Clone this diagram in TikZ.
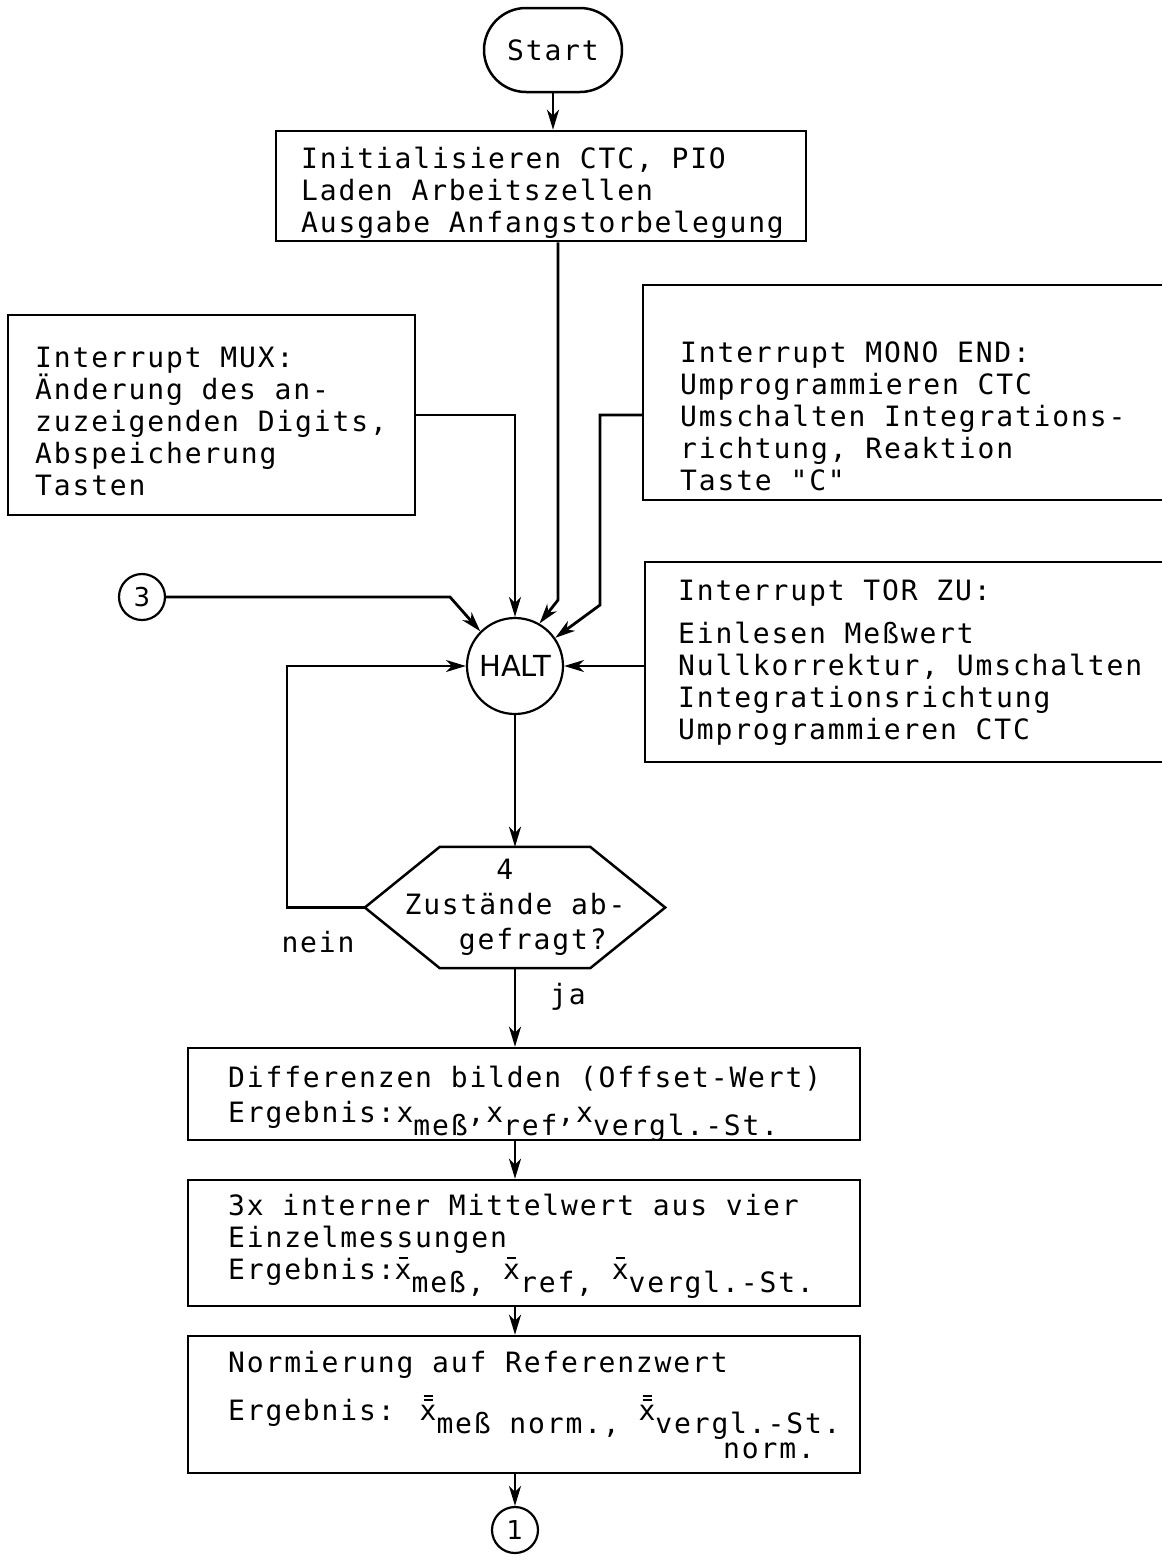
\documentclass[tikz,border=0pt]{standalone}
\usepackage{fontspec}
\usetikzlibrary{arrows.meta,calc}
\newfontfamily\monof[LetterSpace=6.6]{DejaVu Sans Mono}
\newfontfamily\sansf{DejaVu Sans}
\newcommand\mtxt{\monof\fontsize{28}{32}\selectfont\lineskiplimit=-100pt\relax}
\newcommand\lo[1]{\raisebox{-13pt}{#1}}
\newcommand\xb{\rlap{\hspace{4pt}\raisebox{20pt}{\rule{9pt}{2pt}}}x}
\newcommand\xbb{\rlap{\hspace{4pt}\raisebox{19pt}{\rule{9pt}{2pt}}}\rlap{\hspace{4pt}\raisebox{23pt}{\rule{9pt}{2pt}}}x}
\tikzset{
  box/.style={draw, line width=2.5pt, inner sep=0pt},
  txt/.style={inner sep=0pt, align=left, font=\mtxt},
  conn/.style={line width=2.8pt},
  arr/.style={conn, -{Stealth[length=20pt,width=12pt,inset=6pt]}},
  ring/.style={draw, circle, line width=2.2pt, inner sep=0pt},
}
\begin{document}
\begin{tikzpicture}[x=1pt,y=-1pt]
\useasboundingbox (0,0) rectangle (1162,1564);
\fill[white] (0,0) rectangle (1162,1564);

% Start
\node[box, rounded corners=42pt, minimum width=138pt, minimum height=84pt, font=\mtxt] (start) at (553,50) {Start};

% Init box
\node[box, minimum width=530pt, minimum height=110pt] (init) at (541,186) {};
\node[txt, anchor=west] (initT) at (301,193) {Initialisieren CTC, PIO\\Laden Arbeitszellen\\Ausgabe Anfangstorbelegung};

% MUX box
\node[box, minimum width=407pt, minimum height=200pt] (mux) at (211.5,415) {};
\node[txt, anchor=west] (muxT) at (35,421) {Interrupt MUX:\\Änderung des an-\\zuzeigenden Digits,\\Abspeicherung\\Tasten};

% MONO END box
\node[box, minimum width=532pt, minimum height=215pt] (mono) at (909,392.5) {};
\node[txt, anchor=west] (monoT) at (680,416) {Interrupt MONO END:\\Umprogrammieren CTC\\Umschalten Integrations-\\richtung, Reaktion\\Taste "C"};

% TOR ZU box
\node[box, minimum width=530pt, minimum height=200pt] (tor) at (910,662) {};
\node[txt, anchor=west] (torT) at (678,663) {Interrupt TOR ZU:\\[11pt]Einlesen Meßwert\\Nullkorrektur, Umschalten\\Integrationsrichtung\\Umprogrammieren CTC};

% HALT
\node[ring, minimum size=96pt, font=\sansf\fontsize{29}{32}\selectfont] (halt) at (515,666) {HALT};

% connector circle 3
\node[ring, minimum size=46pt, font=\sansf\fontsize{26}{28}\selectfont] (c3) at (142,597) {3};

% decision
\node[inner sep=0pt, minimum width=300pt, minimum height=121pt, align=left, font=\mtxt] (dec) at (515,907.5)
  {\phantom{00000}4\\[3pt]Zustände ab-\\[3pt]\phantom{000}gefragt?};
\draw[line width=2.5pt, line join=miter] (dec.west) -- ($(dec.north west)+(75,0)$) -- ($(dec.north east)+(-75,0)$) -- (dec.east)
  -- ($(dec.south east)+(-75,0)$) -- ($(dec.south west)+(75,0)$) -- cycle;
\node[txt] (nein) at (318,942) {nein};
\node[txt] (ja) at (568,997) {ja};

% Differenzen box
\node[box, minimum width=672pt, minimum height=92pt] (diff) at (524,1094) {};
\node[txt, anchor=west] (diffT) at (228,1104) {Differenzen bilden (Offset-Wert)\\[3pt]Ergebnis:x\lo{meß},x\lo{ref},x\lo{vergl.-St.}};

% Mittelwert box
\node[box, minimum width=672pt, minimum height=126pt] (avg) at (524,1243) {};
\node[txt, anchor=west] (avgT) at (228,1246) {3x interner Mittelwert aus vier\\Einzelmessungen\\Ergebnis:\xb\lo{meß,} \xb\lo{ref,} \xb\lo{vergl.-St.}};

% Normierung box
\node[box, minimum width=672pt, minimum height=137pt] (norm) at (524,1404.5) {};
\node[txt, anchor=west] (normT) at (228,1405) {Normierung auf Referenzwert\\[16pt]Ergebnis: \xbb\lo{meß norm.,} \xbb\lo{vergl.-St.}\\[6pt]\hspace*{495pt}norm.};

% connector circle 1
\node[ring, minimum size=46pt, font=\sansf\fontsize{26}{28}\selectfont] (c1) at (515,1530) {1};

% coordinates for bends
\coordinate (k1) at (558,600);
\coordinate (k2) at (600,605);
\coordinate (k3) at (450,597);
\coordinate (k4) at (287,0);

% connectors
\draw[arr] (start.south) -- (start.south |- init.north);
\draw[arr] (init.south -| k1) -- (k1) -- (halt.60);
\draw[arr] (mux.east) -| (halt.north);
\draw[arr] (mono.west |- mux.east) -- (k2 |- mux.east) -- (k2) -- (halt.35);
\draw[arr] (c3.east) -- (k3) -- (halt.135);
\draw[arr] (tor.west |- halt.east) -- (halt.east);
\draw[arr] (halt.south) -- (dec.north);
\draw[arr] (dec.west) -- (dec.west -| k4) -- (halt.west -| k4) -- (halt.west);
\draw[arr] (dec.south) -- (dec.south |- diff.north);
\draw[arr] (dec.south |- diff.south) -- (dec.south |- avg.north);
\draw[arr] (dec.south |- avg.south) -- (dec.south |- norm.north);
\draw[arr] (dec.south |- norm.south) -- (c1.north);
\end{tikzpicture}
\end{document}
